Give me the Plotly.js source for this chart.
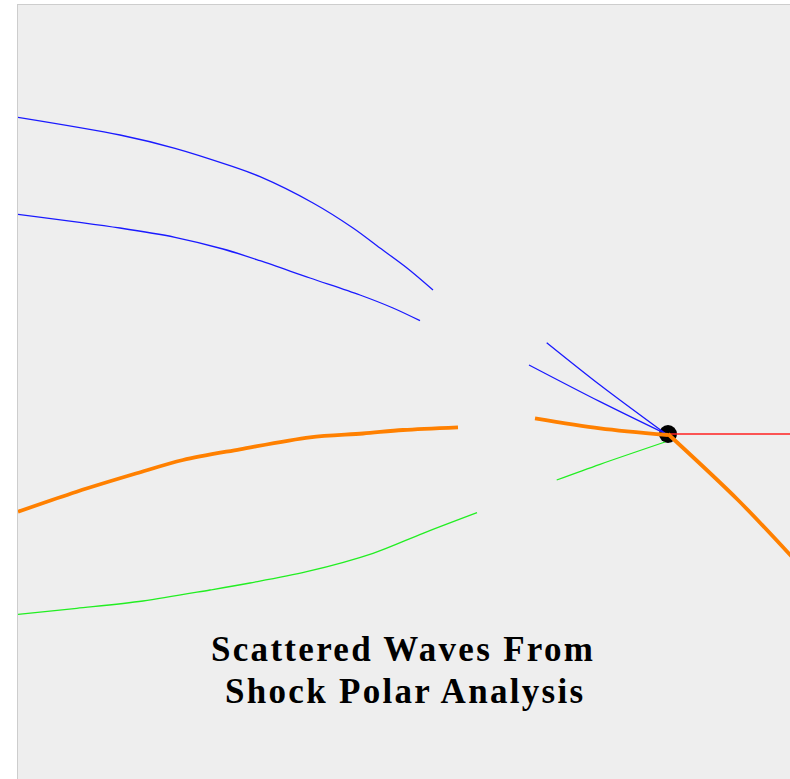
<!DOCTYPE html>
<html>
<head>
<meta charset="utf-8">
<script src="https://cdn.plot.ly/plotly-3.0.1.min.js"></script>
<style>
  html, body { margin: 0; padding: 0; background: #ffffff; }
  #chart { width: 790px; height: 779px; }
  .annotation-text { letter-spacing: 2.3px; }
</style>
</head>
<body>
<div id="chart"></div>
<script>
// Wave fronts in the physical plane; the interaction point sits at the origin.

// Incident / upstream fronts (left family)
const blueUpperX = [-6.50, -5.48, -4.93, -4.38, -4.08, -3.55, -3.15, -2.88, -2.61, -2.35];
const blueUpperY = [3.167, 2.990, 2.857, 2.683, 2.573, 2.310, 2.060, 1.860, 1.660, 1.440];

const blueLowerX = [-6.50, -5.48, -4.93, -4.45, -4.08, -3.58, -3.08, -2.75, -2.48];
const blueLowerY = [2.197, 2.060, 1.967, 1.850, 1.733, 1.560, 1.390, 1.260, 1.133];

const shockLeftX = [-6.50, -5.913, -5.313, -4.85, -4.28, -3.58, -3.05, -2.65, -2.10];
const shockLeftY = [-0.777, -0.577, -0.393, -0.260, -0.153, -0.033, 0.005, 0.040, 0.067];

const greenLeftX = [-6.50, -5.913, -5.25, -4.58, -4.18, -3.613, -2.95, -2.45, -1.91];
const greenLeftY = [-1.803, -1.743, -1.670, -1.560, -1.490, -1.377, -1.193, -0.993, -0.787];

// Scattered waves meeting at the interaction point
const blueRayAX = [-1.213, -0.68, -0.02];
const blueRayAY = [0.913, 0.490, 0.000];

const blueRayBX = [-1.39, -0.68, -0.02];
const blueRayBY = [0.690, 0.323, 0.000];

const shockMidX = [-1.33, -0.68, 0.00];
const shockMidY = [0.157, 0.057, -0.010];

const shockRightX = [0.00, 0.70, 1.25];
const shockRightY = [0.00, -0.66, -1.24];

const greenRayX = [-1.113, -0.68, -0.03];
const greenRayY = [-0.460, -0.303, -0.080];

const slipX = [0.00, 1.30];
const slipY = [0.00, 0.00];

const pointX = [0];
const pointY = [0];

const titleLines = ["Scattered Waves From", "Shock Polar Analysis"];

const BLUE = "#1a1aff", ORANGE = "#ff8000", GREEN = "#22ee22", RED = "#ff2020";

function line(x, y, color, width) {
  return { x: x, y: y, type: "scatter", mode: "lines",
           line: { color: color, width: width, shape: "spline", smoothing: 0.9 },
           hoverinfo: "skip", showlegend: false };
}

const traces = [
  { x: pointX, y: pointY, type: "scatter", mode: "markers",
    marker: { color: "#000000", size: 18 }, hoverinfo: "skip", showlegend: false },
  line(blueUpperX, blueUpperY, BLUE, 1.3),
  line(blueLowerX, blueLowerY, BLUE, 1.3),
  line(greenLeftX, greenLeftY, GREEN, 1.3),
  line(blueRayAX, blueRayAY, BLUE, 1.3),
  line(blueRayBX, blueRayBY, BLUE, 1.3),
  line(greenRayX, greenRayY, GREEN, 1.3),
  line(slipX, slipY, RED, 1.3),
  line(shockLeftX, shockLeftY, ORANGE, 3.8),
  line(shockMidX, shockMidY, ORANGE, 3.8),
  line(shockRightX, shockRightY, ORANGE, 3.8)
];

const axisCommon = {
  showgrid: false, zeroline: false, showticklabels: false, ticks: "",
  showline: true, linecolor: "#cdcdcd", linewidth: 1.5, fixedrange: true
};

const titleFont = { family: "Liberation Serif, Times New Roman, serif", size: 35,
                    color: "#000000", weight: "bold" };

const layout = {
  width: 790, height: 779,
  margin: { l: 18, r: 0, t: 5, b: 0, pad: 0 },
  paper_bgcolor: "#ffffff",
  plot_bgcolor: "#eeeeee",
  xaxis: Object.assign({}, axisCommon, { range: [-6.50, 1.22], side: "top" }),
  yaxis: Object.assign({}, axisCommon, { range: [-3.45, 4.29], side: "left" }),
  annotations: [
    { text: "<b>" + titleLines[0] + "</b>", xref: "paper", yref: "paper",
      x: 0.499, y: 0.1668, xanchor: "center", yanchor: "middle",
      showarrow: false, font: titleFont },
    { text: "<b>" + titleLines[1] + "</b>", xref: "paper", yref: "paper",
      x: 0.501, y: 0.113, xanchor: "center", yanchor: "middle",
      showarrow: false, font: titleFont }
  ]
};

Plotly.newPlot("chart", traces, layout, { displayModeBar: false, staticPlot: true });
</script>
</body>
</html>
